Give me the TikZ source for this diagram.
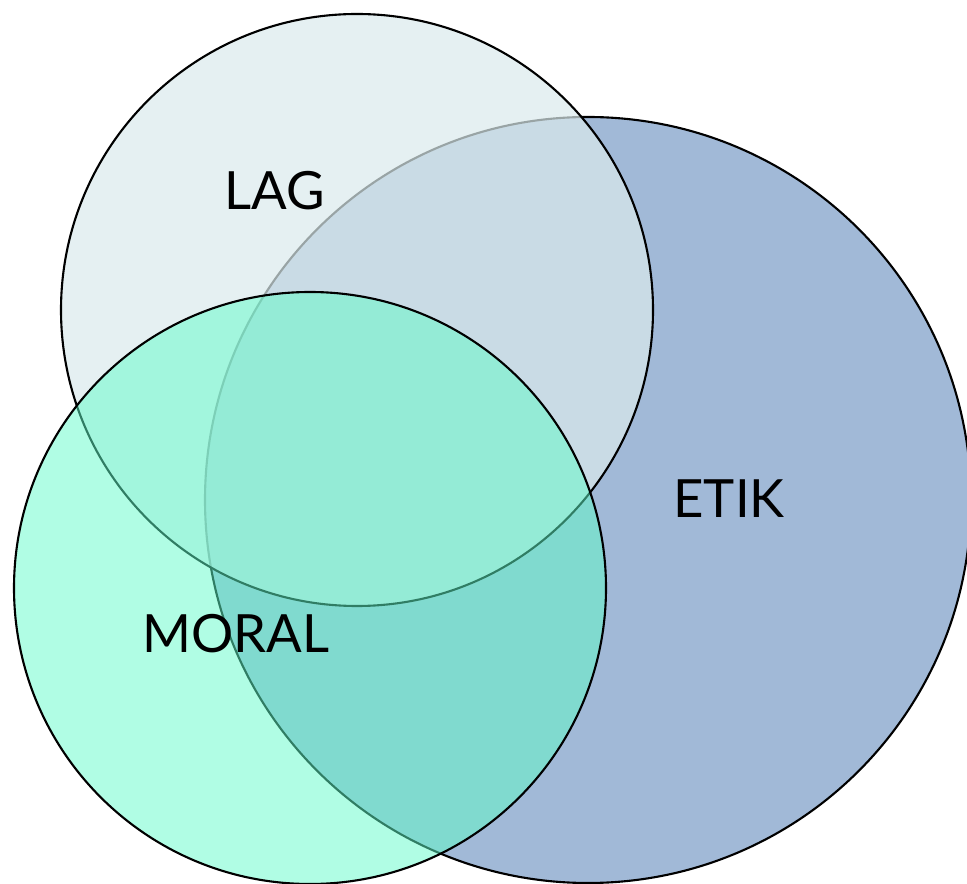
\documentclass[tikz,border=0pt]{standalone}
\usepackage{fontspec}
\setmainfont{Lato}
\usepackage{tikz}
\definecolor{etikblue}{RGB}{161,185,215}
\definecolor{laggray}{RGB}{218,234,236}
\definecolor{moralgreen}{RGB}{97,251,201}

\begin{document}
\begin{tikzpicture}[line width=0.6pt,
    set/.style={draw=black},
    setname/.style={anchor=base,font=\fontsize{15}{18}\selectfont}]
    % fix the frame and cut the circles at its edge
    \useasboundingbox (0,0) rectangle (9.67,8.83);
    \clip (0,0) rectangle (9.67,8.83);

    % draw the three sets
    \draw[set,fill=etikblue] (5.88,3.83) circle(3.83);
    \draw[set,fill=laggray,fill opacity=0.7] (3.57,5.73) circle(2.96);
    \draw[set,fill=moralgreen,fill opacity=0.5] (3.10,2.95) circle(2.96);

    % names of the sets
    \node[setname] (lag) at (2.75,6.73) {LAG};
    \node[setname] (etik) at (7.29,3.65) {ETIK};
    \node[setname] (moral) at (2.36,2.30) {MORAL};
\end{tikzpicture}
\end{document}
